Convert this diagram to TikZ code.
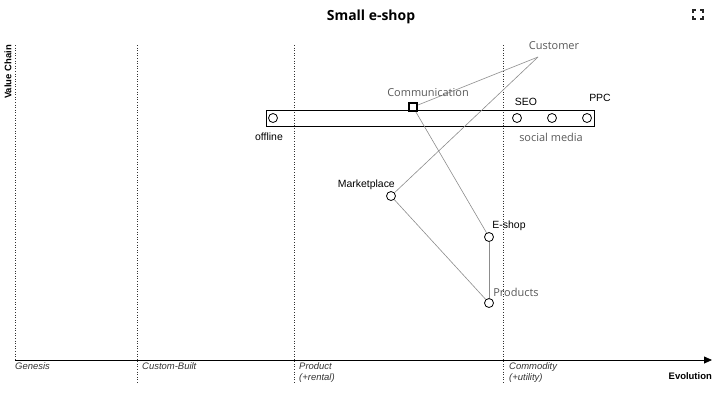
\documentclass[tikz,border=0pt]{standalone}
\usepackage{fontspec}
\setmainfont{Liberation Sans}
\newfontfamily\opensans{Open Sans}
\usetikzlibrary{arrows.meta}
\begin{document}
\begin{tikzpicture}[x=1bp,y=-1bp,
  comp/.style={circle,draw=black,fill=white,line width=0.8bp,inner sep=0pt,minimum size=9bp},
  sqnode/.style={rectangle,draw=black,fill=white,line width=1.3bp,inner sep=0pt,minimum size=8bp},
  lbl/.style={font=\fontsize{10.5}{12}\selectfont,text=black,inner sep=0pt},
  glbl/.style={font=\opensans\fontsize{11}{13}\selectfont,text=black!65,inner sep=0pt},
  axlbl/.style={font=\itshape\fontsize{9.5}{11}\selectfont,text=black!80,inner sep=0pt,align=left},
  link/.style={draw=black!45,line width=0.6bp},
  stage/.style={draw=black!80,dotted,line width=0.6bp}]
\useasboundingbox (0,0) rectangle (720,400);
% title
\node[font=\opensans\bfseries\fontsize{14}{16}\selectfont] (title) at (371,17) {Small e-shop};
% expand icon
\begin{scope}[line width=1.3bp,draw=black!85]
\draw (693,13) -- (693,10) -- (696,10);
\draw (700,10) -- (703,10) -- (703,13);
\draw (693,16) -- (693,19) -- (696,19);
\draw (700,19) -- (703,19) -- (703,16);
\end{scope}
% axes
\draw[stage] (15,45) -- (15,360);
\draw[line width=0.8bp,-{Triangle[length=8bp,width=7bp]}] (15,360) -- (712,360);
\node[font=\bfseries\fontsize{9.5}{11}\selectfont,rotate=90,anchor=east,inner sep=0pt] (vc) at (8,45) {Value Chain};
\node[font=\bfseries\fontsize{9.5}{11}\selectfont,anchor=east,inner sep=0pt] (evo) at (712,376) {Evolution};
\draw[stage] (137,45) -- (137,383);
\draw[stage] (294,45) -- (294,383);
\draw[stage] (503,45) -- (503,383);
\node[axlbl,anchor=north west] (g) at (15,362) {Genesis};
\node[axlbl,anchor=north west] (cb) at (142,362) {Custom-Built};
\node[axlbl,anchor=north west] (p) at (299,362) {Product\\(+rental)};
\node[axlbl,anchor=north west] (c) at (509,362) {Commodity\\(+utility)};
% pipeline
\draw[line width=0.8bp] (266,110) rectangle (594,126);
% nodes
\coordinate (cust) at (538,57);
\node[sqnode] (comm) at (413,107) {};
\node[comp] (mkt) at (391,196) {};
\node[comp] (esh) at (489,237) {};
\node[comp] (prod) at (489,303) {};
% links
\draw[link] (cust) -- (comm);
\draw[link] (cust) -- (mkt);
\draw[link] (comm) -- (esh);
\draw[link] (mkt) -- (prod);
\draw[link] (esh) -- (prod);
\node[sqnode] at (comm) {};
\node[comp] (off) at (273,118) {};
\node[comp] (seo) at (517,118) {};
\node[comp] (sm) at (552,118) {};
\node[comp] (ppc) at (587,118) {};
% labels
\node[glbl] at (554,46) {Customer};
\node[glbl] at (428,93) {Communication};
\node[glbl] at (551,137) {social media};
\node[glbl] at (516,292) {Products};
\node[lbl] at (269,137) {offline};
\node[lbl] at (526,102) {SEO};
\node[lbl] at (600,98) {PPC};
\node[lbl,anchor=east] at (395,185) {Marketplace};
\node[lbl] at (509,226) {E-shop};
\end{tikzpicture}
\end{document}
